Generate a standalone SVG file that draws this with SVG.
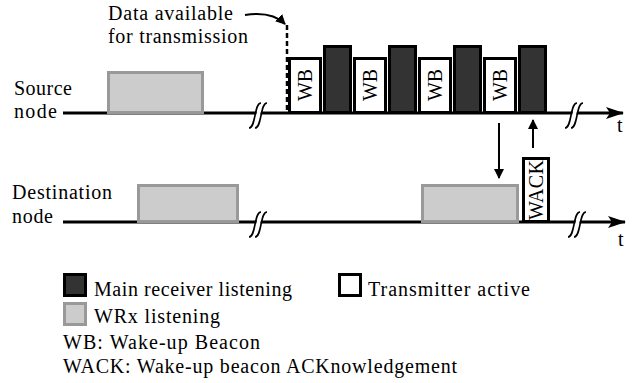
<svg xmlns="http://www.w3.org/2000/svg" width="641" height="383" viewBox="0 0 641 383" font-family="'Liberation Serif', 'Times New Roman', serif">
<defs>
<style>
text{font-family:"Liberation Serif","Times New Roman",serif;font-size:20px;fill:#000}
.ax{stroke:#000;stroke-width:3;fill:none}
.wrx{fill:#cccccc;stroke:#999999;stroke-width:3}
.rx{fill:#333333;stroke:#000;stroke-width:3}
.tx{fill:#ffffff;stroke:#000;stroke-width:3}
.brk{fill:none;stroke:#000;stroke-width:1.6}
.brkw{fill:none;stroke:#fff;stroke-width:4}
.thin{stroke:#000;stroke-width:2;fill:none}
</style>
<marker id="ah" viewBox="0 0 10 10" refX="9" refY="5" markerWidth="10" markerHeight="10" markerUnits="userSpaceOnUse" orient="auto">
<path d="M0,0 L10,5 L0,10 z" fill="#000"/>
</marker>
<marker id="ahBig" viewBox="0 0 18 12" refX="17" refY="6" markerWidth="18" markerHeight="12" markerUnits="userSpaceOnUse" orient="auto">
<path d="M0,0 L18,6 L0,12 L4,6 z" fill="#000"/>
</marker>
<g id="brkshape">
<path class="brkw" d="M-3,13 C3,13 1,-12 8,-12"/>
<path class="brk" d="M-7,13 C0,13 -2,-12 5,-12"/>
<path class="brk" d="M-1,13 C6,13 4,-12 11,-12"/>
</g>
</defs>

<g id="connectors">
<line class="ax" x1="63" y1="113" x2="623" y2="113" marker-end="url(#ahBig)"/>
<line class="ax" x1="63" y1="222" x2="625" y2="222" marker-end="url(#ahBig)"/>
<line x1="287" y1="25" x2="287" y2="112" stroke="#000" stroke-width="2.5" stroke-dasharray="5,3"/>
<path class="thin" d="M245,15 Q272,11 285,24" marker-end="url(#ah)"/>
<line class="thin" x1="499" y1="123" x2="499" y2="178" marker-end="url(#ah)"/>
<line class="thin" x1="533" y1="148" x2="533" y2="120" marker-end="url(#ah)"/>
</g>

<g id="breaks">
<use href="#brkshape" x="256" y="115"/>
<use href="#brkshape" x="572" y="115"/>
<use href="#brkshape" x="256" y="224"/>
<use href="#brkshape" x="575" y="224"/>
</g>

<g id="labels">
<text x="108" y="20" textLength="125">Data available</text>
<text x="108" y="43" textLength="140">for transmission</text>
<text x="14" y="95" textLength="58">Source</text>
<text x="14" y="118" textLength="43">node</text>
<text x="12" y="199" textLength="100">Destination</text>
<text x="12" y="223" textLength="41">node</text>
<text x="617" y="132">t</text>
<text x="618" y="246">t</text>
</g>

<g id="src-wrx"><rect class="wrx" x="108.5" y="72.5" width="94" height="40"/></g>
<g id="dst-wrx1"><rect class="wrx" x="138.5" y="185.5" width="99" height="36"/></g>
<g id="dst-wrx2"><rect class="wrx" x="422.5" y="185.5" width="95" height="36"/></g>

<g id="wb1"><rect class="tx" x="289.5" y="58.5" width="31" height="54"/><text transform="translate(312,85) rotate(-90)" text-anchor="middle">WB</text></g>
<g id="rx1"><rect class="rx" x="324.5" y="46.5" width="26" height="66"/></g>
<g id="wb2"><rect class="tx" x="354.5" y="58.5" width="31" height="54"/><text transform="translate(377,85) rotate(-90)" text-anchor="middle">WB</text></g>
<g id="rx2"><rect class="rx" x="389.5" y="46.5" width="26" height="66"/></g>
<g id="wb3"><rect class="tx" x="419.5" y="58.5" width="31" height="54"/><text transform="translate(442,85) rotate(-90)" text-anchor="middle">WB</text></g>
<g id="rx3"><rect class="rx" x="454.5" y="46.5" width="26" height="66"/></g>
<g id="wb4"><rect class="tx" x="484.5" y="58.5" width="31" height="54"/><text transform="translate(507,85) rotate(-90)" text-anchor="middle">WB</text></g>
<g id="rx4"><rect class="rx" x="519.5" y="46.5" width="26" height="66"/></g>

<g id="wack"><rect class="tx" x="523.5" y="158.5" width="25" height="63"/><text transform="translate(543,190) rotate(-90)" text-anchor="middle" textLength="60">WACK</text></g>

<g id="legend">
<rect class="rx" x="64.5" y="274.5" width="21" height="21"/>
<text x="94" y="296" textLength="198">Main receiver listening</text>
<rect class="tx" x="339.5" y="274.5" width="21" height="21"/>
<text x="368" y="296" textLength="162">Transmitter active</text>
<rect class="wrx" x="64.5" y="303.5" width="21" height="21"/>
<text x="94" y="323" textLength="126">WRx listening</text>
<text x="63" y="349" textLength="197">WB: Wake-up Beacon</text>
<text x="63" y="373" textLength="394">WACK: Wake-up beacon ACKnowledgement</text>
</g>
</svg>
